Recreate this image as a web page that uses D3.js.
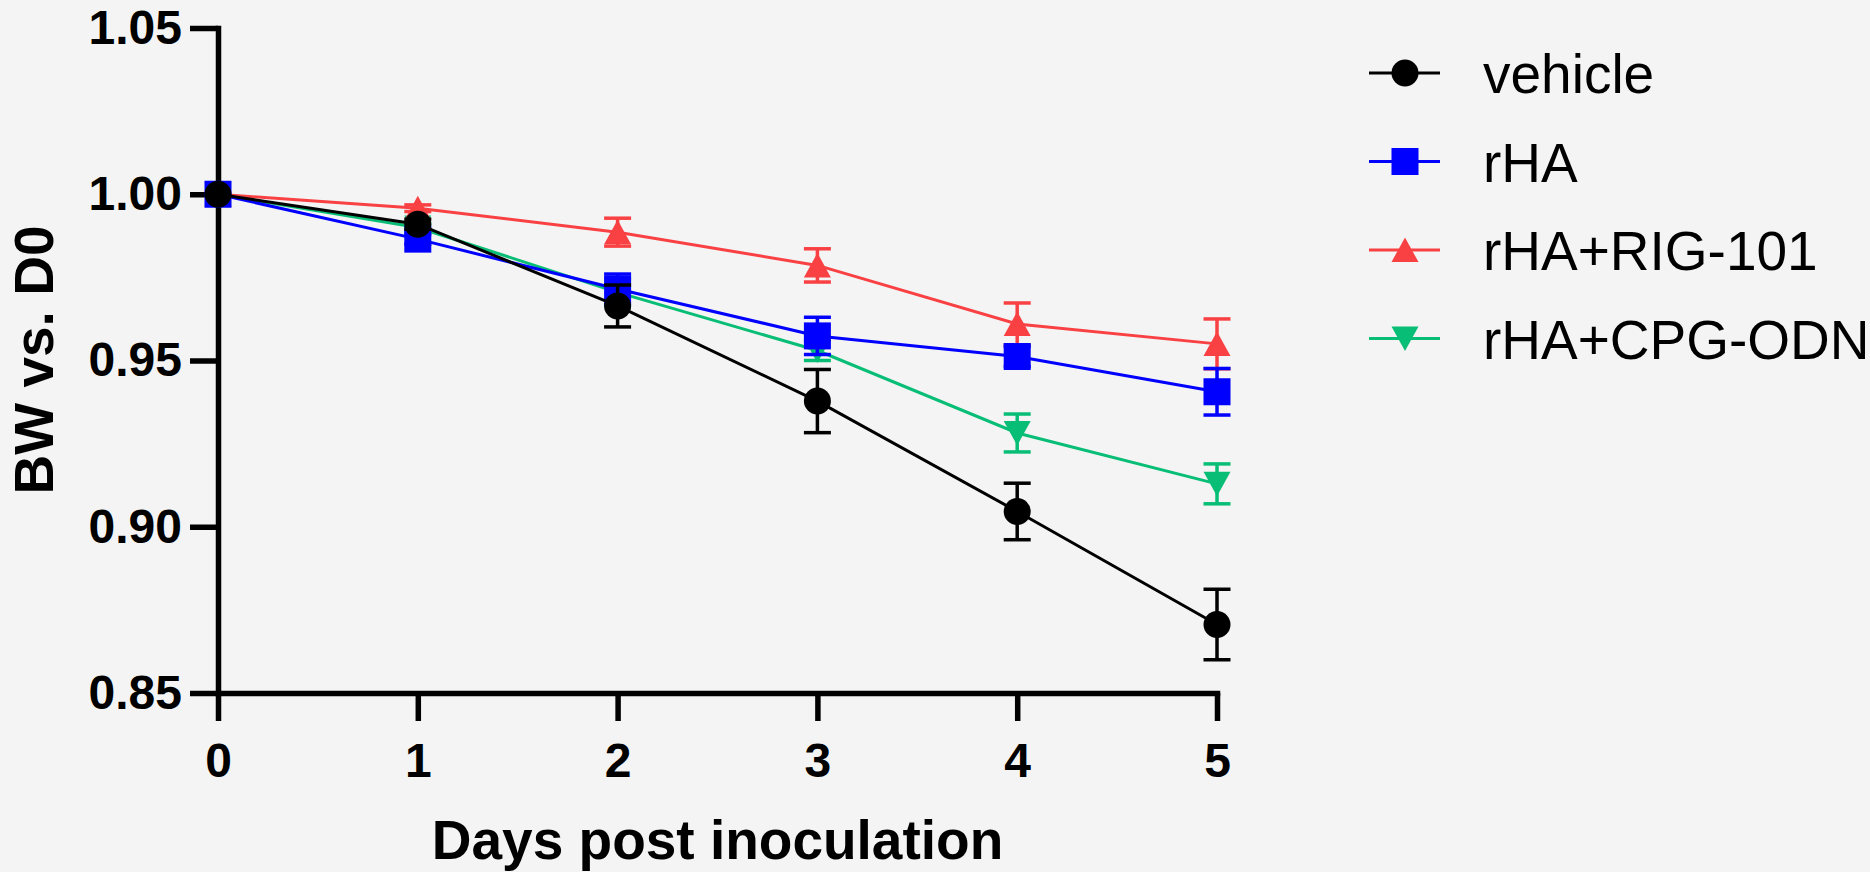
<!doctype html>
<html>
<head>
<meta charset="utf-8">
<title>BW vs. D0</title>
<script src="https://d3js.org/d3.v7.min.js"></script>
<style>
  html, body { margin: 0; padding: 0; background: #f4f4f4; }
  svg { display: block; font-family: Arial, "Liberation Sans", sans-serif; }
  .axis path, .axis line { stroke: #000; stroke-width: 5.5; fill: none; }
  .axis text { font-size: 48px; font-weight: bold; fill: #000; }
</style>
</head>
<body>
<div id="chart"></div>
<script>
// data (mean body weight relative to day 0, +/- error)
const days = [0, 1, 2, 3, 4, 5];
const seriesNames = ["vehicle", "rHA", "rHA+RIG-101", "rHA+CPG-ODN"];
const vehicle     = [1.000, 0.991, 0.9664, 0.9378, 0.9046, 0.8706];
const vehicleErr  = [0, 0.0015, 0.0063, 0.0095, 0.0085, 0.0106];
const rHA         = [1.000, 0.9865, 0.9715, 0.9574, 0.9512, 0.9406];
const rHAErr      = [0, 0.0015, 0.0045, 0.0056, 0.003, 0.007];
const rig101      = [1.000, 0.9958, 0.9886, 0.9786, 0.961, 0.955];
const rig101Err   = [0, 0.001, 0.0042, 0.005, 0.0063, 0.0075];
const cpgOdn      = [1.000, 0.990, 0.9705, 0.953, 0.9282, 0.9129];
const cpgOdnErr   = [0, 0.001, 0.004, 0.003, 0.0057, 0.006];
const yTicks = [0.85, 0.90, 0.95, 1.00, 1.05];
const xTicks = [0, 1, 2, 3, 4, 5];

const colors  = ["#000000", "#0000ff", "#f94144", "#08be76"];
const shapes  = ["circle", "square", "up", "down"];

const series = seriesNames.map((name, i) => ({
  name: name,
  color: colors[i],
  shape: shapes[i],
  values: [vehicle, rHA, rig101, cpgOdn][i],
  errs: [vehicleErr, rHAErr, rig101Err, cpgOdnErr][i]
}));

const W = 1870, H = 872;
const svg = d3.select("#chart").append("svg")
  .attr("width", W).attr("height", H);
svg.append("rect").attr("width", W).attr("height", H).attr("fill", "#f4f4f4");

const x = d3.scaleLinear().domain([0, 5]).range([218, 1217]);
const y = d3.scaleLinear().domain([0.85, 1.05]).range([693, 28]);

// axes
svg.append("g")
  .attr("class", "axis")
  .attr("transform", "translate(218,0)")
  .call(d3.axisLeft(y).tickValues(yTicks).tickFormat(d3.format(".2f"))
    .tickSize(28).tickPadding(8).tickSizeOuter(0))
  .call(g => g.select(".domain").attr("stroke-linecap", "square"));

svg.append("g")
  .attr("class", "axis")
  .attr("transform", "translate(0,693)")
  .call(d3.axisBottom(x).tickValues(xTicks).tickFormat(d3.format("d"))
    .tickSize(28).tickPadding(22).tickSizeOuter(0))
  .call(g => g.select(".domain").attr("stroke-linecap", "square"));

// axis titles
svg.append("text")
  .attr("x", x(2.5)).attr("y", 859)
  .attr("text-anchor", "middle")
  .style("font-size", "55px").style("font-weight", "bold")
  .text("Days post inoculation");

svg.append("text")
  .attr("transform", "translate(53,360) rotate(-90)")
  .attr("text-anchor", "middle")
  .style("font-size", "55px").style("font-weight", "bold")
  .text("BW vs. D0");

// marker paths, centered on the point
function markerPath(shape) {
  const r = 13.5;
  if (shape === "circle") return d3.symbol(d3.symbolCircle, Math.PI * r * r)();
  if (shape === "square") return `M${-r},${-r}H${r}V${r}H${-r}Z`;
  if (shape === "up") return `M0,${-12.5}L${r},12L${-r},12Z`;
  return `M0,12.5L${r},-12L${-r},-12Z`;
}

const line = d3.line().x((d, i) => x(days[i])).y(d => y(d));

// draw back to front: CPG-ODN, RIG-101, rHA, vehicle
const plot = svg.append("g");
series.slice().reverse().forEach(s => {
  const g = plot.append("g");
  g.append("path")
    .datum(s.values)
    .attr("d", line)
    .attr("fill", "none")
    .attr("stroke", s.color)
    .attr("stroke-width", 3);

  const eb = g.selectAll(".eb")
    .data(days.filter((d, i) => s.errs[i] > 0).map(d => days.indexOf(d)))
    .enter().append("g");
  eb.append("line")
    .attr("x1", i => x(days[i])).attr("x2", i => x(days[i]))
    .attr("y1", i => y(s.values[i] - s.errs[i]))
    .attr("y2", i => y(s.values[i] + s.errs[i]))
    .attr("stroke", s.color).attr("stroke-width", 3.5);
  [-1, 1].forEach(sign => {
    eb.append("line")
      .attr("x1", i => x(days[i]) - 13.5).attr("x2", i => x(days[i]) + 13.5)
      .attr("y1", i => y(s.values[i] + sign * s.errs[i]))
      .attr("y2", i => y(s.values[i] + sign * s.errs[i]))
      .attr("stroke", s.color).attr("stroke-width", 3.5);
  });

  g.selectAll(".mk")
    .data(s.values)
    .enter().append("path")
    .attr("d", markerPath(s.shape))
    .attr("transform", (d, i) => `translate(${x(days[i])},${y(d)})`)
    .attr("fill", s.color);
});

// legend
const legend = svg.append("g");
series.forEach((s, i) => {
  const ly = 73 + i * 88.5;
  const lg = legend.append("g").attr("transform", `translate(0,${ly})`);
  lg.append("line")
    .attr("x1", 1369).attr("x2", 1440).attr("y1", 0).attr("y2", 0)
    .attr("stroke", s.color).attr("stroke-width", 3);
  lg.append("path")
    .attr("d", markerPath(s.shape))
    .attr("transform", "translate(1405,0)")
    .attr("fill", s.color);
  lg.append("text")
    .attr("x", 1483).attr("y", 20)
    .style("font-size", "55px")
    .text(s.name);
});
</script>
</body>
</html>
